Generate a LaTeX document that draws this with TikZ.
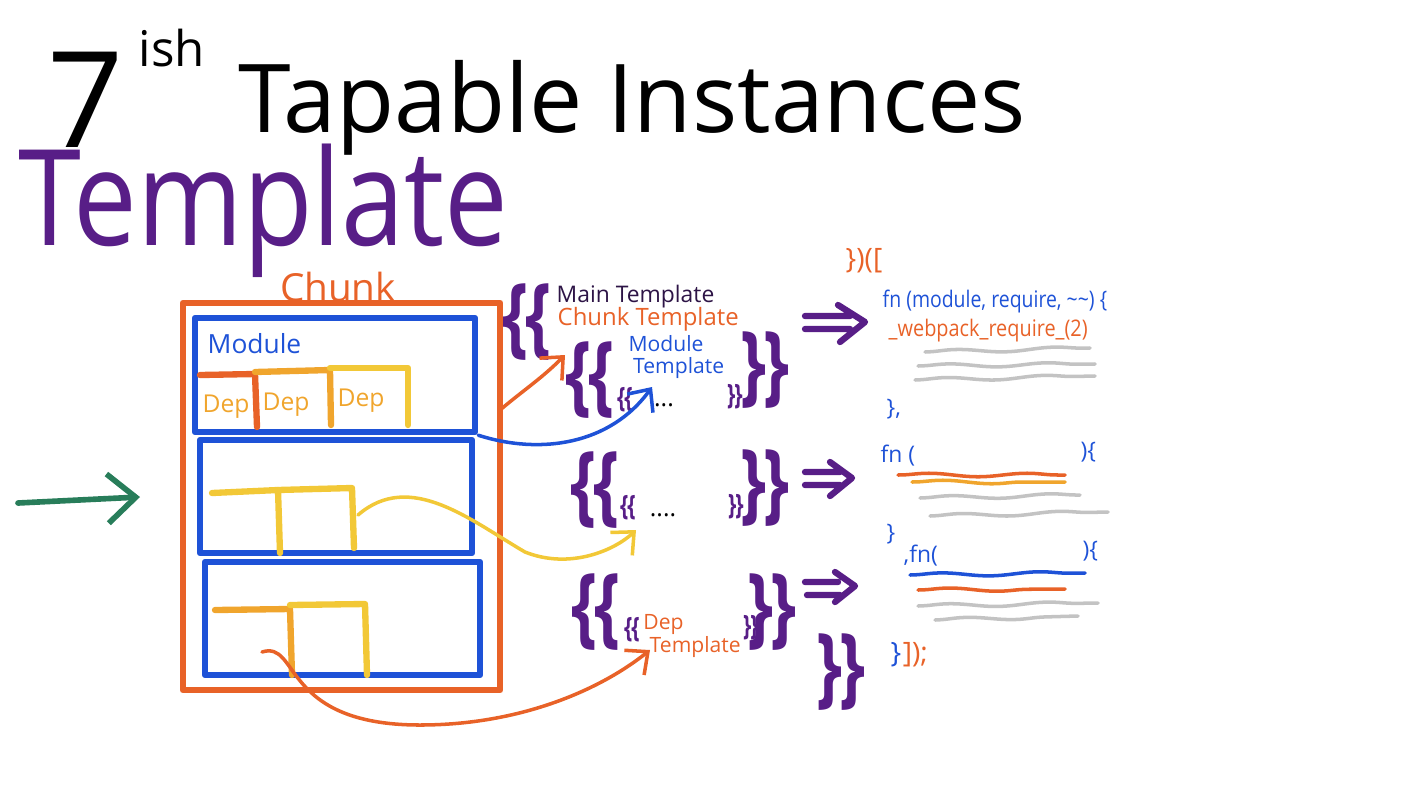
\documentclass[tikz,border=0pt]{standalone}
\usepackage{fontspec}
\setmainfont{Open Sans}
\usetikzlibrary{arrows.meta,decorations.pathmorphing}
\definecolor{inkorange}{RGB}{232,98,40}
\definecolor{inkblue}{RGB}{30,82,215}
\definecolor{inkyellow}{RGB}{242,200,55}
\definecolor{inkamber}{RGB}{240,165,45}
\definecolor{inkpurple}{RGB}{88,30,135}
\definecolor{inkdark}{RGB}{45,20,70}
\definecolor{inkgreen}{RGB}{40,125,90}
\definecolor{inkgray}{RGB}{195,195,195}
\newcommand{\opencurly}{\scalebox{0.75}[1]{\{\kern-0.05em\{}}
\newcommand{\closecurly}{\scalebox{0.75}[1]{\}\kern-0.05em\}}}
\begin{document}
\begin{tikzpicture}[x=0.01cm,y=-0.01cm,
  pen/.style={line width=1.8pt,line cap=round,line join=round},
  wire/.style={line width=1pt,line cap=round,-{Straight Barb[length=5pt,width=9pt]}},
  box/.style={draw,pen,inner sep=0pt},
  curly/.style={inkpurple,font=\fontsize{25}{25}\selectfont\bfseries,inner sep=0pt},
  smallcurly/.style={inkpurple,font=\fontsize{8}{8}\selectfont\bfseries,inner sep=0pt},
  scrib/.style={line width=1pt,line cap=round,decorate,decoration={snake,amplitude=0.5pt,segment length=28pt}},
  code/.style={inner sep=0pt,anchor=base west,font=\fontsize{6.5}{7}\selectfont}]
\useasboundingbox (0,0) rectangle (1422,800);
% title
\node[inner sep=0pt,font=\fontsize{38}{38}\selectfont] (seven) at (86,100) {7};
\node[inner sep=0pt,font=\fontsize{14}{14}\selectfont] (ish) at (172,48) {ish};
\node[inner sep=0pt,anchor=base west,font=\fontsize{27}{27}\selectfont] (title) at (238,132) {Tapable Instances};
\node[inner sep=0pt,anchor=base west,inkpurple,font=\fontsize{38}{38}\selectfont] (tpl) at (18,245) {\scalebox{0.85}[1]{Template}};
% chunk with modules
\node[inkorange,inner sep=0pt,font=\fontsize{11}{11}\selectfont] (chunklbl) at (338,287) {Chunk};
\node[box,draw=inkorange,minimum width=3.17cm,minimum height=3.87cm] (chunk) at (341.5,496.5) {};
\node[box,draw=inkblue,minimum width=2.8cm,minimum height=1.14cm] (mod1) at (335,375) {};
\node[box,draw=inkblue,minimum width=2.72cm,minimum height=1.13cm] (mod2) at (336,496.5) {};
\node[box,draw=inkblue,minimum width=2.75cm,minimum height=1.13cm] (mod3) at (342.5,618.5) {};
\node[inkblue,inner sep=0pt,anchor=west,font=\fontsize{7.5}{8}\selectfont] (modlbl) at (207,344) {Module};
\draw[pen,inkorange] (200,375) -- (255,374) -- (257,427);
\draw[pen,inkamber] (255,372) -- (330,370) -- (331,425);
\draw[pen,inkyellow] (330,368) -- (408,368) -- (408,425);
\node[inkamber,inner sep=0pt,font=\fontsize{7}{7}\selectfont] (dep1) at (226,407) {Dep};
\node[inkamber,inner sep=0pt,font=\fontsize{7}{7}\selectfont] (dep2) at (286,405) {Dep};
\node[inkamber,inner sep=0pt,font=\fontsize{7}{7}\selectfont] (dep3) at (361,401) {Dep};
\draw[pen,inkyellow] (212,493) -- (278,490) -- (280,553);
\draw[pen,inkyellow] (278,490) -- (352,488) -- (354,548);
\draw[pen,inkamber] (215,610) -- (290,609) -- (292,675);
\draw[pen,inkyellow] (290,605) -- (365,604) -- (367,675);
\coordinate (entry) at (18,503);
\coordinate (entrytip) at (140,497);
\draw[line width=1.6pt,line cap=round,inkgreen,-{Straight Barb[length=8pt,width=14pt]}] (entry) -- (entrytip);
% templates
\node[curly] (open1) at (527,322) {\opencurly};
\node[inkdark,inner sep=0pt,anchor=west,font=\fontsize{6.5}{7}\selectfont] (maintpl) at (556,297) {Main Template};
\node[inkorange,inner sep=0pt,anchor=west,font=\fontsize{6.8}{7}\selectfont] (chunktpl) at (557,319) {Chunk Template};
\node[curly] (open2) at (590,380) {\opencurly};
\node[inkblue,inner sep=0pt,align=center,font=\fontsize{6}{6.5}\selectfont] (modtpl) at (666,357) {Module\\\hspace*{1.2em}Template};
\node[smallcurly] (open3) at (625,400) {\opencurly};
\node[inner sep=0pt,font=\fontsize{7}{7}\selectfont] (dots1) at (664,405) {...};
\node[smallcurly] (close3) at (735,397) {\closecurly};
\node[curly] (close2) at (765,370) {\closecurly};
\node[curly] (open4) at (595,490) {\opencurly};
\node[smallcurly] (open5) at (628,508) {\opencurly};
\node[inner sep=0pt,font=\fontsize{7}{7}\selectfont] (dots2) at (663,515) {....};
\node[smallcurly] (close5) at (736,507) {\closecurly};
\node[curly] (close4) at (765,488) {\closecurly};
\node[curly] (open6) at (596,612) {\opencurly};
\node[smallcurly] (open7) at (632,630) {\opencurly};
\node[inkorange,inner sep=0pt,align=left,font=\fontsize{6}{6.5}\selectfont] (deptpl) at (692,636) {Dep\\\hspace*{0.3em}Template};
\node[smallcurly] (close7) at (751,628) {\closecurly};
\node[curly] (close6) at (772,612) {\closecurly};
\node[curly] (close1) at (841,672) {\closecurly};
% connectors
\coordinate (c1) at (500,410);
\coordinate (ct) at (565,355);
\coordinate (mt) at (652,387);
\coordinate (d2) at (358,515);
\coordinate (dt2) at (636,530);
\coordinate (d3) at (262,652);
\coordinate (dt3) at (650,650);
\draw[wire,inkorange] (c1) to[out=40,in=225] (ct);
\draw[wire,inkblue] (mod1.south east) .. controls (540,455) and (610,445) .. (mt);
\draw[wire,inkyellow] (d2) .. controls (410,470) and (470,520) .. (525,552) .. controls (570,570) and (615,550) .. (dt2);
\draw[wire,inkorange] (d3) .. controls (300,640) and (280,725) .. (420,725) .. controls (520,725) and (600,690) .. (dt3);
% implies
\draw[pen,inkpurple] (805,316) -- (850,316) (805,329) -- (850,329) (838,305) -- (865,322) -- (840,342);
\draw[pen,inkpurple] (805,472) -- (840,472) (805,485) -- (840,485) (830,462) -- (852,478) -- (830,496);
\draw[pen,inkpurple] (805,582) -- (838,582) (807,595) -- (840,595) (835,572) -- (855,586) -- (835,602);
% bundle
\node[code,inkorange,font=\fontsize{8}{8}\selectfont] (head) at (845,268) {\})([};
\node[code,inkblue] (fn1) at (882,307) {\scalebox{0.85}[1]{fn (module, require, \textasciitilde\textasciitilde) \{}};
\node[code,inkorange] (req) at (888,336) {\scalebox{0.87}[1]{\_webpack\_require\_(2)}};
\draw[scrib,inkgray] (925,352) -- (1090,348);
\draw[scrib,inkgray] (918,366) -- (1095,364);
\draw[scrib,inkgray] (915,380) -- (1095,376);
\node[code,inkblue] (end1) at (886,415) {\},};
\node[code,inkblue] (fn2) at (880,462) {fn (};
\node[code,inkblue] (fn2b) at (1080,458) {)\{};
\draw[scrib,inkorange] (898,475) -- (1065,475);
\draw[scrib,inkamber] (912,482) -- (1065,482);
\draw[scrib,inkgray] (920,498) -- (1080,495);
\draw[scrib,inkgray] (930,516) -- (1108,512);
\node[code,inkblue] (end2) at (886,540) {\}};
\node[code,inkblue] (fn3) at (903,562) {,fn(};
\node[code,inkblue] (fn3b) at (1082,557) {)\{};
\draw[scrib,inkblue] (910,575) -- (1085,573);
\draw[scrib,inkorange] (918,590) -- (1065,589);
\draw[scrib,inkgray] (918,606) -- (1098,603);
\draw[scrib,inkgray] (935,620) -- (1078,616);
\node[code,inkblue,font=\fontsize{8}{8}\selectfont] (end3) at (890,662) {\}};
\node[code,inkorange,anchor=base west,font=\fontsize{8}{8}\selectfont] (end3b) at (end3.base east) {]);};
\end{tikzpicture}
\end{document}
